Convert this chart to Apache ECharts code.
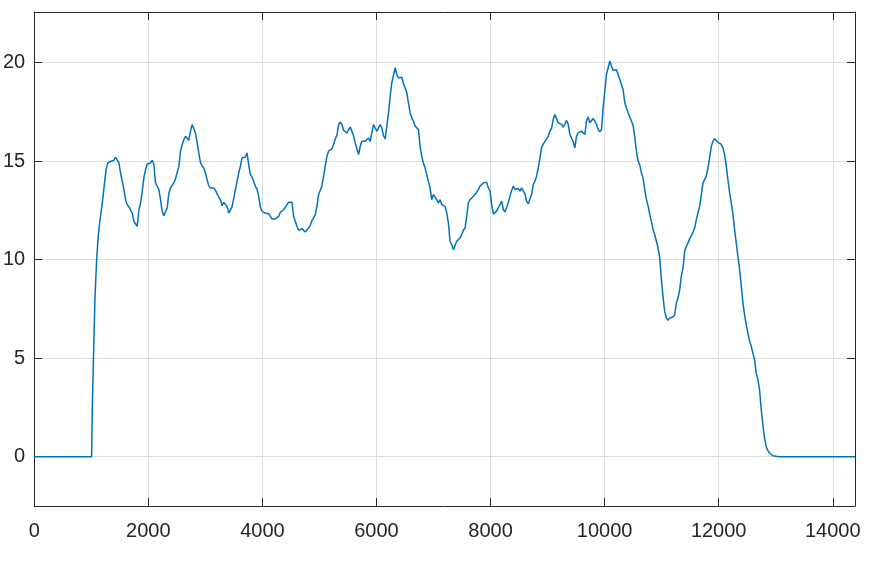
<!DOCTYPE html>
<html>
<head>
<meta charset="utf-8">
<script src="https://cdn.jsdelivr.net/npm/echarts@6/dist/echarts.min.js"></script>
<style>
html,body{margin:0;padding:0;background:#fff;}
#chart{width:875px;height:579px;}
</style>
</head>
<body>
<div id="chart"></div>
<script>
const xTicks = [0, 2000, 4000, 6000, 8000, 10000, 12000, 14000];
const yTicks = [0, 5, 10, 15, 20];

const xValues = [
0,1006,1018,1041,1064,1094,1122,1152,1181,1210,1240,1262,1290,1320,1356,1397,1426,1455,1485,1514,
1543,1572,1601,1630,1660,1689,1718,1747,1776,1805,1835,1864,1893,1922,1951,1980,2010,2039,2068,2097,
2126,2156,2185,2214,2243,2272,2301,2331,2360,2389,2418,2447,2476,2506,2535,2564,2593,2622,2652,2681,
2710,2739,2768,2797,2827,2856,2885,2914,2943,2972,3002,3031,3060,3089,3118,3148,3177,3206,3235,3264,
3293,3323,3352,3381,3410,3439,3468,3498,3527,3556,3585,3614,3643,3673,3702,3731,3760,3789,3819,3848,
3877,3906,3935,3964,3994,4023,4052,4081,4110,4139,4169,4198,4227,4256,4285,4315,4344,4373,
4402,4431,4460,4490,4519,4548,4577,4606,4635,4665,4694,4723,4752,4781,4810,4840,4869,4898,4927,4956,
4985,5015,5044,5073,5102,5131,5161,5190,5219,5248,5277,5306,5336,5365,5394,5423,5452,5481,5511,5540,
5569,5598,5627,5657,5686,5715,5744,5773,5802,5832,5861,5890,5919,5948,5977,6007,6036,6065,6094,6123,
6153,6182,6211,6240,6269,6298,6328,6357,6386,6415,6444,6473,6503,6532,6561,6590,6619,6648,6678,6707,
6736,6765,6794,6823,6853,6882,6911,6940,6969,6999,7028,7057,7086,7115,7144,7174,7203,7232,7261,7290,
7320,7349,7378,7407,7436,7465,7495,7524,7553,7582,7611,7640,7670,7699,7728,7757,7786,7815,7845,7874,
7903,7932,7961,7991,8020,8049,8078,8107,8136,8166,8195,8224,8253,8282,8311,8341,8370,8399,8428,8457,
8486,8516,8545,8574,8603,8632,8662,8691,8720,8749,8778,8807,8837,8866,8895,8924,8953,8982,9012,9041,
9070,9099,9128,9158,9187,9216,9245,9274,9303,9333,9362,9391,9420,9449,9478,9508,9537,9566,9595,9624,
9654,9683,9712,9741,9770,9799,9829,9858,9887,9916,9945,9974,10004,10033,10062,10091,10120,10149,10179,10208,
10237,10266,10295,10324,10354,10383,10412,10441,10470,10500,10529,10558,10587,10616,10645,10674,10704,10733,10762,10791,
10820,10850,10879,10908,10937,10966,10995,11025,11054,11083,11112,11141,11170,11200,11229,11258,11287,11316,11345,11375,
11404,11433,11462,11491,11520,11550,11579,11608,11637,11666,11696,11725,11754,11783,11812,11841,11871,11900,11929,11958,
11987,12017,12046,12075,12104,12133,12162,12192,12221,12250,12279,12308,12337,12367,12396,12425,12454,12483,12512,12542,
12571,12600,12629,12658,12687,12717,12746,12775,12804,12833,12863,12892,12921,12950,13008,13067,14390
];

const yValues = [
0,0,2.5,5.3,8.0,10.0,11.2,12.0,12.6,13.3,14.1,14.6,14.9,15.0,15.0,15.04,15.2,15.12,14.9,14.39,
13.97,13.55,13.04,12.79,12.67,12.73,12.36,11.94,11.94,11.69,12.53,12.87,13.46,14.14,14.56,14.85,14.87,14.9,15.04,14.85,
13.89,13.72,13.55,13.04,12.45,12.23,12.19,12.62,13.38,13.63,13.72,13.89,14.09,14.14,14.73,15.49,15.83,16.08,16.25,16.29,
16.05,16.51,16.85,16.85,16.42,15.92,15.41,14.93,14.77,14.65,14.39,14.05,13.75,13.63,13.58,13.63,13.51,13.34,13.17,13.04,
12.73,12.9,12.95,12.7,12.36,12.4,12.67,13.12,13.55,13.97,14.39,14.73,15.15,15.24,15.2,15.41,14.82,14.31,14.19,14.09,
13.72,13.58,13.21,12.67,12.45,12.36,12.36,12.45,12.33,12.19,12.06,12.06,12.06,11.99,12.19,12.4,12.5,12.53,
12.54,12.79,12.91,12.84,12.91,12.2,12.11,11.69,11.49,11.55,11.57,11.49,11.4,11.49,11.6,11.74,11.98,12.11,12.28,12.7,
13.3,13.52,13.75,14.23,14.74,15.24,15.5,15.58,15.62,15.84,16.12,16.29,16.85,16.99,16.85,16.56,16.51,16.43,16.51,16.72,
16.68,16.29,15.92,15.84,15.33,15.75,16.0,16.09,16.0,16.09,16.17,16.0,16.43,16.85,16.68,16.51,16.68,16.85,16.68,16.29,
16.12,16.77,17.44,18.29,18.97,19.34,19.73,19.39,19.22,19.22,19.25,18.93,18.71,18.46,17.95,17.44,17.19,17.02,16.77,16.68,
16.6,15.75,15.24,14.9,14.65,14.31,13.97,13.64,13.04,13.3,13.35,13.04,12.87,13.04,12.79,12.87,12.7,12.37,11.86,10.93,
10.76,10.5,10.42,10.93,10.98,11.1,11.27,11.49,11.6,12.2,12.87,13.04,13.13,13.21,13.3,13.42,13.55,13.72,13.8,13.89,
13.93,13.93,13.64,13.5,12.8,12.32,12.24,12.46,12.63,12.71,12.96,12.54,12.41,12.63,12.88,13.22,13.5,13.73,13.56,13.5,
13.61,13.47,13.64,13.47,13.34,12.96,12.83,12.83,13.3,13.81,13.98,14.23,14.66,15.16,15.67,15.87,15.98,15.98,16.26,16.52,
16.65,17.11,17.36,17.28,16.94,16.86,16.86,16.72,16.86,17.06,16.86,16.35,16.26,15.98,15.67,16.26,16.43,16.38,16.52,16.55,
16.35,17.03,17.23,16.94,16.86,17.16,17.2,16.86,16.6,16.48,16.6,17.7,18.55,19.4,19.73,20.07,19.82,19.6,19.63,19.63,
19.56,19.14,19.09,18.63,17.96,17.7,17.45,17.36,17.03,16.8,16.2,15.5,15.0,14.8,14.4,14.15,13.55,13.05,12.71,12.29,
11.95,11.52,11.27,10.93,10.59,10.1,9.0,8.1,7.35,7.04,6.92,7.04,7.04,7.09,7.21,7.8,8.05,8.48,9.16,9.58,
10.42,10.68,10.85,11.05,11.22,11.39,11.61,12.03,12.37,12.71,13.3,13.89,14.06,14.23,14.65,15.16,15.75,16.01,16.13,16.09,
15.96,15.89,15.84,15.67,15.33,14.74,14.06,13.39,12.88,12.29,11.52,10.85,10.17,9.49,8.65,7.8,7.21,6.7,6.28,5.86,
5.6,5.26,4.92,4.25,3.91,3.4,2.39,1.63,0.95,0.52,0.31,0.19,0.1,0.05,0.02,0,0
];

const seriesData = xValues.map((x, i) => [x, yValues[i]]);

const axisColor = '#262626';
const gridColor = '#dcdcdc';
const fontFamily = '"Liberation Sans", Arial, Helvetica, sans-serif';

function baseX(pos, showLabel) {
  return {
    type: 'value', position: pos, min: 0, max: 14390,
    axisLine: { show: true, onZero: false, lineStyle: { color: axisColor, width: 1 } },
    axisTick: { show: true, inside: true, length: 8, customValues: xTicks, lineStyle: { color: axisColor, width: 1 } },
    axisLabel: { show: showLabel, customValues: xTicks, formatter: v => String(v), color: axisColor, fontSize: 20, fontFamily: fontFamily, margin: 15 },
    splitLine: { show: showLabel, lineStyle: { color: gridColor, width: 1 } }
  };
}
function baseY(pos, showLabel) {
  return {
    type: 'value', position: pos, min: -2.5, max: 22.56,
    axisLine: { show: true, onZero: false, lineStyle: { color: axisColor, width: 1 } },
    axisTick: { show: true, inside: true, length: 8, customValues: yTicks, lineStyle: { color: axisColor, width: 1 } },
    axisLabel: { show: showLabel, customValues: yTicks, formatter: v => String(v), color: axisColor, fontSize: 20, fontFamily: fontFamily, margin: 9 },
    splitLine: { show: showLabel, lineStyle: { color: gridColor, width: 1 } }
  };
}

const chart = echarts.init(document.getElementById('chart'), null, { renderer: 'canvas' });
chart.setOption({
  animation: false,
  backgroundColor: '#ffffff',
  grid: { left: 33, right: 20, top: 12, bottom: 73, containLabel: false },
  xAxis: [baseX('bottom', true), baseX('top', false)],
  yAxis: [baseY('left', true), baseY('right', false)],
  series: [{
    type: 'line',
    xAxisIndex: 0, yAxisIndex: 0,
    data: seriesData,
    showSymbol: false,
    symbol: 'none',
    smooth: false,
    lineStyle: { color: '#0072BD', width: 1.5 },
    z: 5
  }]
});
</script>
</body>
</html>
